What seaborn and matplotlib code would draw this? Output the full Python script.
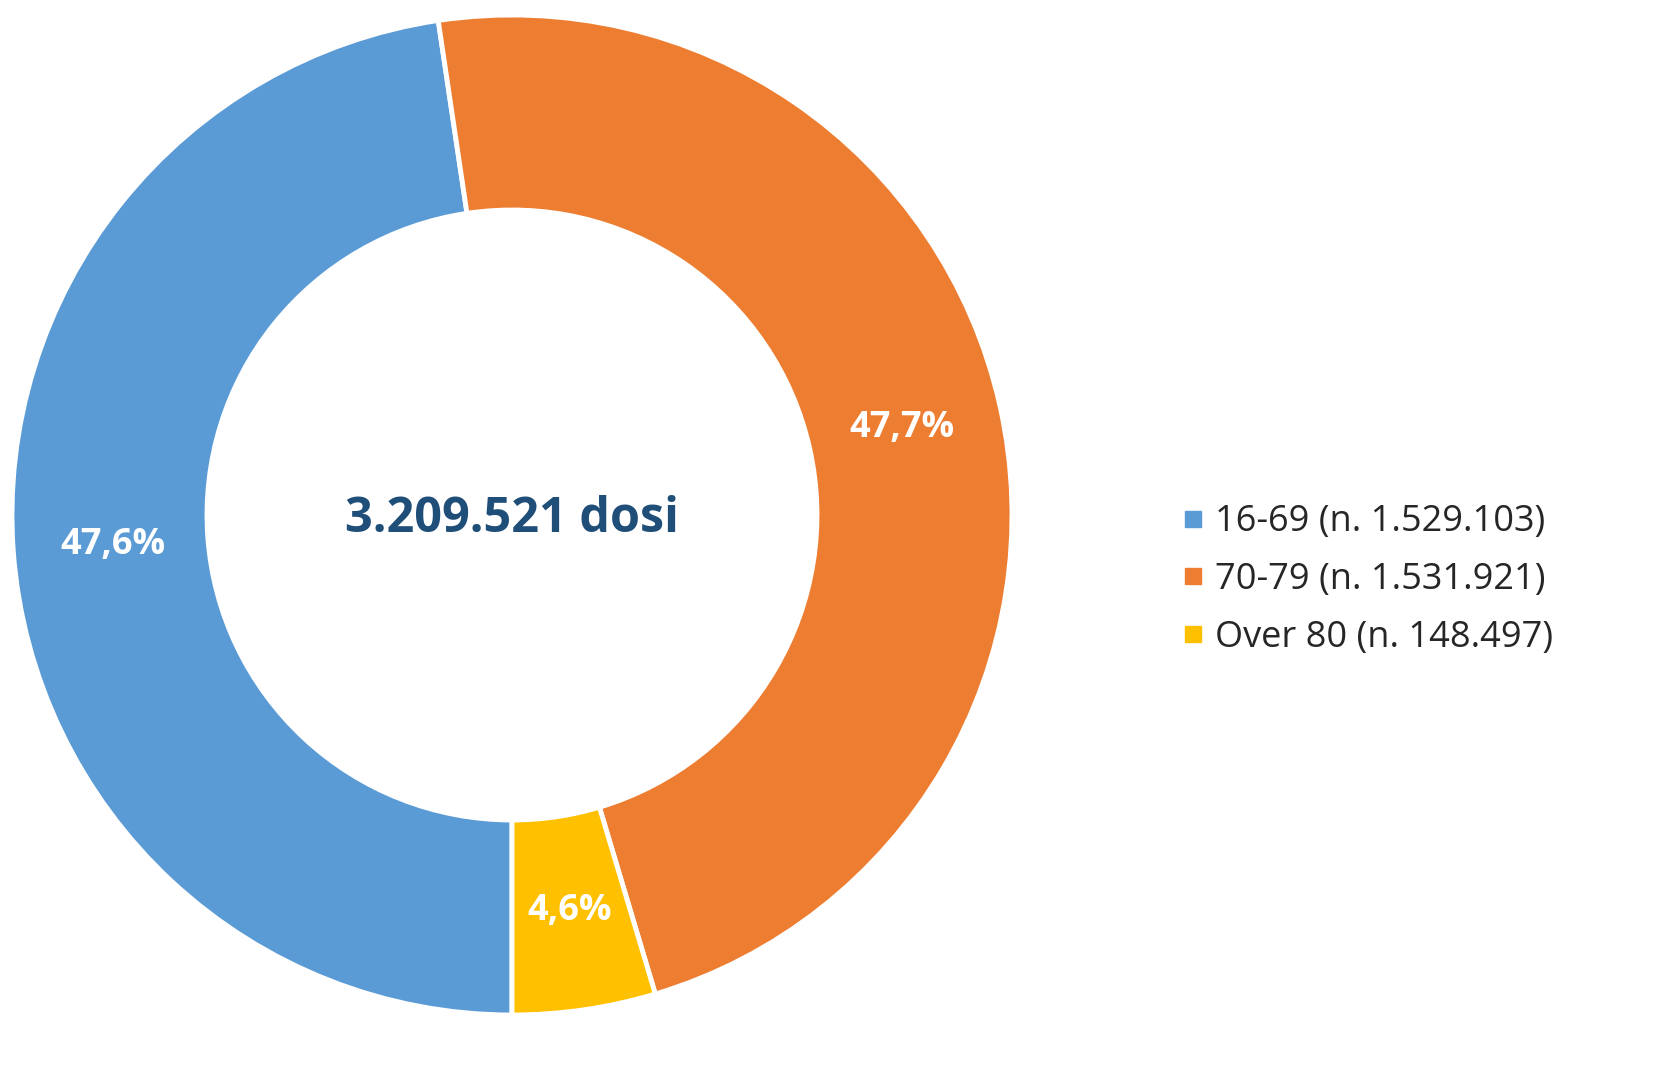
import matplotlib
matplotlib.use("Agg")
import matplotlib.pyplot as plt
from matplotlib.lines import Line2D
import numpy as np
import seaborn as sns

# data
groups = ["16-69", "70-79", "Over 80"]
doses = [1529103, 1531921, 148497]
pct_labels = ["47,6%", "47,7%", "4,6%"]
legend_labels = ["16-69 (n. 1.529.103)", "70-79 (n. 1.531.921)", "Over 80 (n. 148.497)"]
center_label = "3.209.521 dosi"
colors = ["#5B9BD5", "#ED7D31", "#FFC000"]

sns.set_theme(style="white")
plt.rcParams["font.family"] = ["Open Sans", "DejaVu Sans"]

W, H = 1672, 1075
fig = plt.figure(figsize=(W / 100, H / 100), dpi=100)
cx, cy, r = 512, 515, 500
ax = fig.add_axes([(cx - r) / W, (H - cy - r) / H, 2 * r / W, 2 * r / H])

wedges, _ = ax.pie(
    doses,
    colors=colors,
    startangle=-90,
    counterclock=False,
    radius=1.0,
    wedgeprops=dict(width=0.39, edgecolor="white", linewidth=3.5),
)
ax.set_aspect("equal")
ax.set_xlim(-1, 1)
ax.set_ylim(-1, 1)

# percentage labels placed mid-ring
for w, lab in zip(wedges, pct_labels):
    ang = np.deg2rad((w.theta1 + w.theta2) / 2)
    ax.text(0.8 * np.cos(ang), 0.8 * np.sin(ang), lab, ha="center", va="center",
            color="white", fontsize=26, fontweight="bold")

ax.text(0, -0.01, center_label, ha="center", va="center", color="#1F4E79",
        fontsize=35, fontweight="bold")

handles = [Line2D([0], [0], marker="s", linestyle="none", markersize=11,
                  markerfacecolor=c, markeredgecolor=c) for c in colors]
fig.legend(handles, legend_labels, loc="center left",
           bbox_to_anchor=(1146 / W, 1 - 580 / H), frameon=False,
           fontsize=26, handletextpad=0.2, labelspacing=0.6, handlelength=0.8,
           labelcolor="#262626")

fig.savefig("out.png", dpi=100)
